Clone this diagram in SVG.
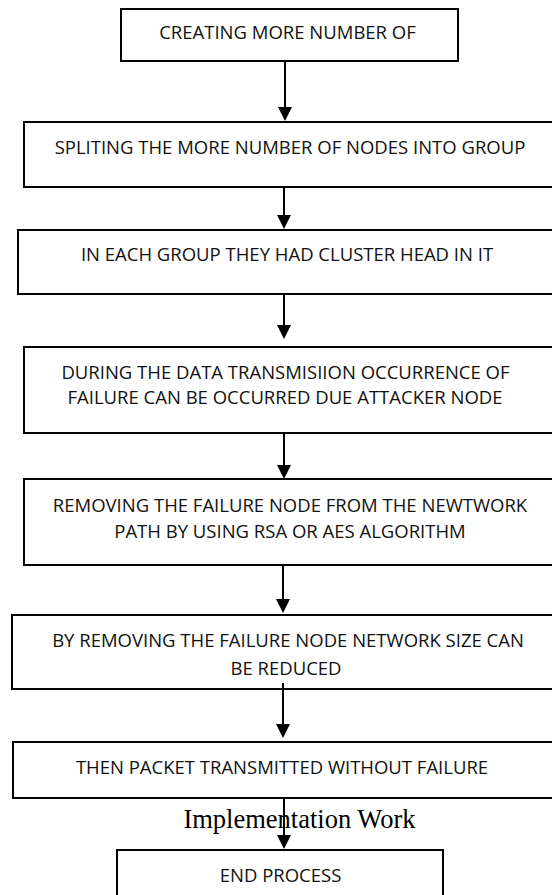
<svg xmlns="http://www.w3.org/2000/svg" width="552" height="895" viewBox="0 0 552 895">
  <style>
    .box { fill: #ffffff; stroke: #000000; stroke-width: 2; }
    .lbl { font-family: "Open Sans", "Liberation Sans", sans-serif; font-size: 18.5px; fill: #111111; text-anchor: middle; }
    .cap { font-family: "Liberation Serif", serif; font-size: 26.5px; fill: #000000; text-anchor: middle; }
    .arrow { stroke: #000000; stroke-width: 2; fill: none; marker-end: url(#head); }
  </style>
  <defs>
    <marker id="head" markerUnits="userSpaceOnUse" viewBox="0 0 14 14" markerWidth="14" markerHeight="14" refX="6" refY="7" orient="auto">
      <path d="M0,0 L14,7 L0,14 z" fill="#000000"/>
    </marker>
  </defs>

  <!-- caption sitting behind the lower boxes -->
  <text class="cap" x="299.5" y="828">Implementation Work</text>

  <g id="step1">
    <rect class="box" x="121" y="9" width="337" height="52"/>
    <text class="lbl" x="287.5" y="39">CREATING MORE NUMBER OF</text>
  </g>
  <g id="step2">
    <rect class="box" x="24" y="122" width="540" height="65"/>
    <text class="lbl" x="290" y="154">SPLITING THE MORE NUMBER OF NODES INTO GROUP</text>
  </g>
  <g id="step3">
    <rect class="box" x="18" y="230" width="546" height="64"/>
    <text class="lbl" x="287" y="261">IN EACH GROUP THEY HAD CLUSTER HEAD IN IT</text>
  </g>
  <g id="step4">
    <rect class="box" x="24" y="347" width="540" height="86"/>
    <text class="lbl" x="285.5" y="378.5">DURING THE DATA TRANSMISIION OCCURRENCE OF</text>
    <text class="lbl" x="285" y="404">FAILURE CAN BE OCCURRED DUE ATTACKER NODE</text>
  </g>
  <g id="step5">
    <rect class="box" x="24" y="479" width="540" height="86"/>
    <text class="lbl" x="290" y="512">REMOVING THE FAILURE NODE FROM THE NEWTWORK</text>
    <text class="lbl" x="290" y="538">PATH BY USING RSA OR AES ALGORITHM</text>
  </g>
  <g id="step6">
    <rect class="box" x="12" y="615" width="552" height="74"/>
    <text class="lbl" x="288" y="647">BY REMOVING THE FAILURE NODE NETWORK SIZE CAN</text>
    <text class="lbl" x="286" y="675">BE REDUCED</text>
  </g>
  <g id="step7">
    <rect class="box" x="13" y="742" width="551" height="56"/>
    <text class="lbl" x="282" y="774">THEN PACKET TRANSMITTED WITHOUT FAILURE</text>
  </g>
  <g id="step8">
    <rect class="box" x="117" y="850" width="326" height="60"/>
    <text class="lbl" x="280.5" y="882">END PROCESS</text>
  </g>

  <g id="connectors">
    <line class="arrow" x1="285" y1="61" x2="285" y2="113"/>
    <line class="arrow" x1="284" y1="187" x2="284" y2="221"/>
    <line class="arrow" x1="284" y1="294" x2="284" y2="331"/>
    <line class="arrow" x1="284" y1="433" x2="284" y2="471"/>
    <line class="arrow" x1="283" y1="565" x2="283" y2="605"/>
    <line class="arrow" x1="283" y1="683" x2="283" y2="730"/>
    <line class="arrow" x1="284" y1="798" x2="284" y2="841"/>
  </g>
</svg>
